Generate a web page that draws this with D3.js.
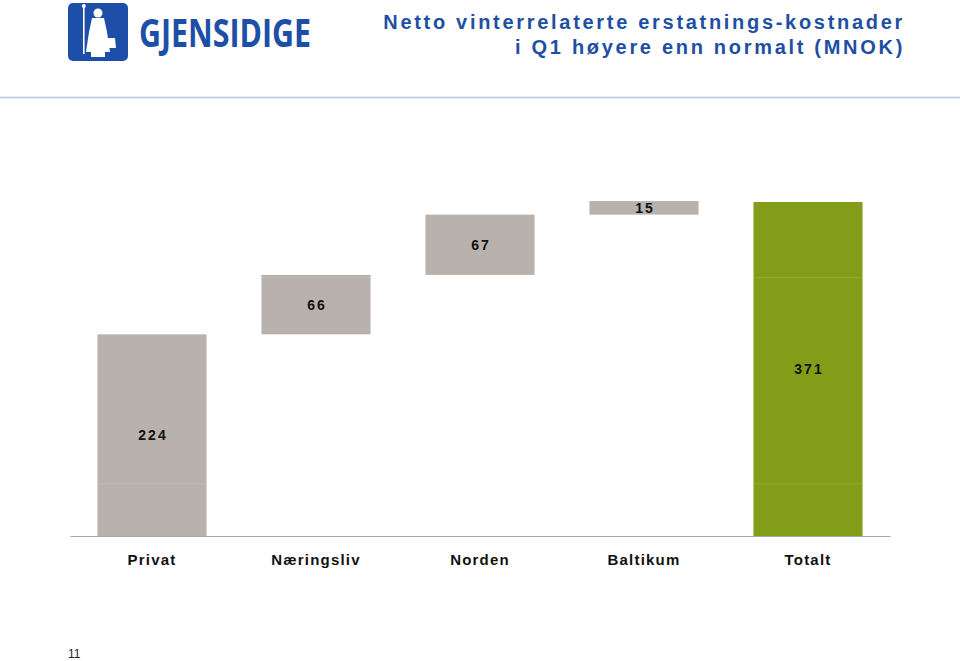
<!DOCTYPE html>
<html><head><meta charset="utf-8">
<script src="https://cdn.jsdelivr.net/npm/d3@7"></script>
<style>
html,body{margin:0;padding:0;background:#fff;}
svg{display:block;font-family:"Liberation Sans",Arial,sans-serif;}
</style></head>
<body><svg id="c" width="960" height="661"></svg>
<script>
const categories = ["Privat","Næringsliv","Norden","Baltikum","Totalt"];
const values = [224, 66, 67, 15, 371];
const isTotal = [false, false, false, false, true];
const gridValues = [58, 287];
const titleLines = ["Netto vinterrelaterte erstatnings-kostnader","i Q1 høyere enn normalt (MNOK)"];

const svg = d3.select("#c");
const W = 960, H = 661;

// header rule
svg.append("line").attr("x1",0).attr("x2",W).attr("y1",97.5).attr("y2",97.5)
  .attr("stroke","#b9c8da").attr("stroke-width",1.5);

// logo
const logo = svg.append("g");
logo.append("rect").attr("x",68).attr("y",3).attr("width",60).attr("height",58).attr("rx",5).attr("fill","#1d4fa8");
const fig = logo.append("g").attr("fill","#ffffff");
fig.append("circle").attr("cx",98).attr("cy",13).attr("r",4.5);
fig.append("path").attr("d","M92,18 L104,18 L107,32 L110,52 L86,52 L89,32 Z");
fig.append("rect").attr("x",83).attr("y",6).attr("width",1.6).attr("height",48);
fig.append("circle").attr("cx",83.8).attr("cy",6).attr("r",2);
fig.append("path").attr("d","M106,38 L115,38 L116,48 L105,48 Z");
fig.append("rect").attr("x",91).attr("y",52).attr("width",14).attr("height",5);
logo.append("text").attr("x",139).attr("y",47).attr("fill","#1d4fa8")
  .attr("font-family","'Open Sans','DejaVu Sans',sans-serif").attr("font-weight","bold")
  .attr("font-size",40).attr("textLength",172).attr("lengthAdjust","spacingAndGlyphs")
  .text("GJENSIDIGE");

// title
titleLines.forEach((t,i)=>{
  svg.append("text").attr("x",905).attr("y",29+i*25).attr("text-anchor","end")
    .attr("fill","#1e4fa3").attr("font-weight","bold").attr("font-size",20)
    .attr("letter-spacing","2.7px").text(t);
});

// scales
const x = d3.scaleBand().domain(categories).range([70,890]).paddingInner(0.335).paddingOuter(0.1675);
const y = d3.scaleLinear().domain([0,371]).range([536,202]);

// waterfall data
let cum = 0;
const bars = categories.map((c,i)=>{
  let y0,y1;
  if (isTotal[i]) { y0 = 0; y1 = values[i]; }
  else { y0 = cum; y1 = cum + values[i]; cum = y1; }
  return {c, v: values[i], y0, y1, total: isTotal[i]};
});

const g = svg.append("g");
g.selectAll("rect.bar").data(bars).join("rect").attr("class","bar")
  .attr("x",d=>x(d.c)).attr("width",x.bandwidth())
  .attr("y",d=>y(d.y1)).attr("height",d=>y(d.y0)-y(d.y1))
  .attr("fill",d=>d.total?"#849d19":"#b9b1ab");

// faint grid lines over bars
g.selectAll("line.grid").data(gridValues).join("line").attr("class","grid")
  .attr("x1",70).attr("x2",890).attr("y1",d=>y(d)).attr("y2",d=>y(d))
  .attr("stroke","#ffffff").attr("stroke-opacity",0.12).attr("stroke-width",1);

// axis line
const axis = d3.axisBottom(x).tickSize(0).tickPadding(18);
const ax = svg.append("g").attr("transform","translate(0,536)").call(axis);
ax.select(".domain").attr("stroke","#a6a6a6").attr("stroke-width",1.2);
ax.selectAll("text").attr("font-size",15).attr("font-weight","bold").attr("fill","#111")
  .attr("font-family","'Liberation Sans',Arial,sans-serif").attr("letter-spacing","1.2px");

// value labels
g.selectAll("text.val").data(bars).join("text").attr("class","val")
  .attr("x",d=>x(d.c)+x.bandwidth()/2+1).attr("y",d=>(y(d.y0)+y(d.y1))/2)
  .attr("dy","0.36em").attr("text-anchor","middle")
  .attr("font-size",14).attr("font-weight","bold").attr("fill","#111")
  .attr("letter-spacing","2px").text(d=>d.v);

// page number
svg.append("text").attr("x",68).attr("y",658).attr("font-size",12).attr("fill","#222").text("11");
</script></body></html>
